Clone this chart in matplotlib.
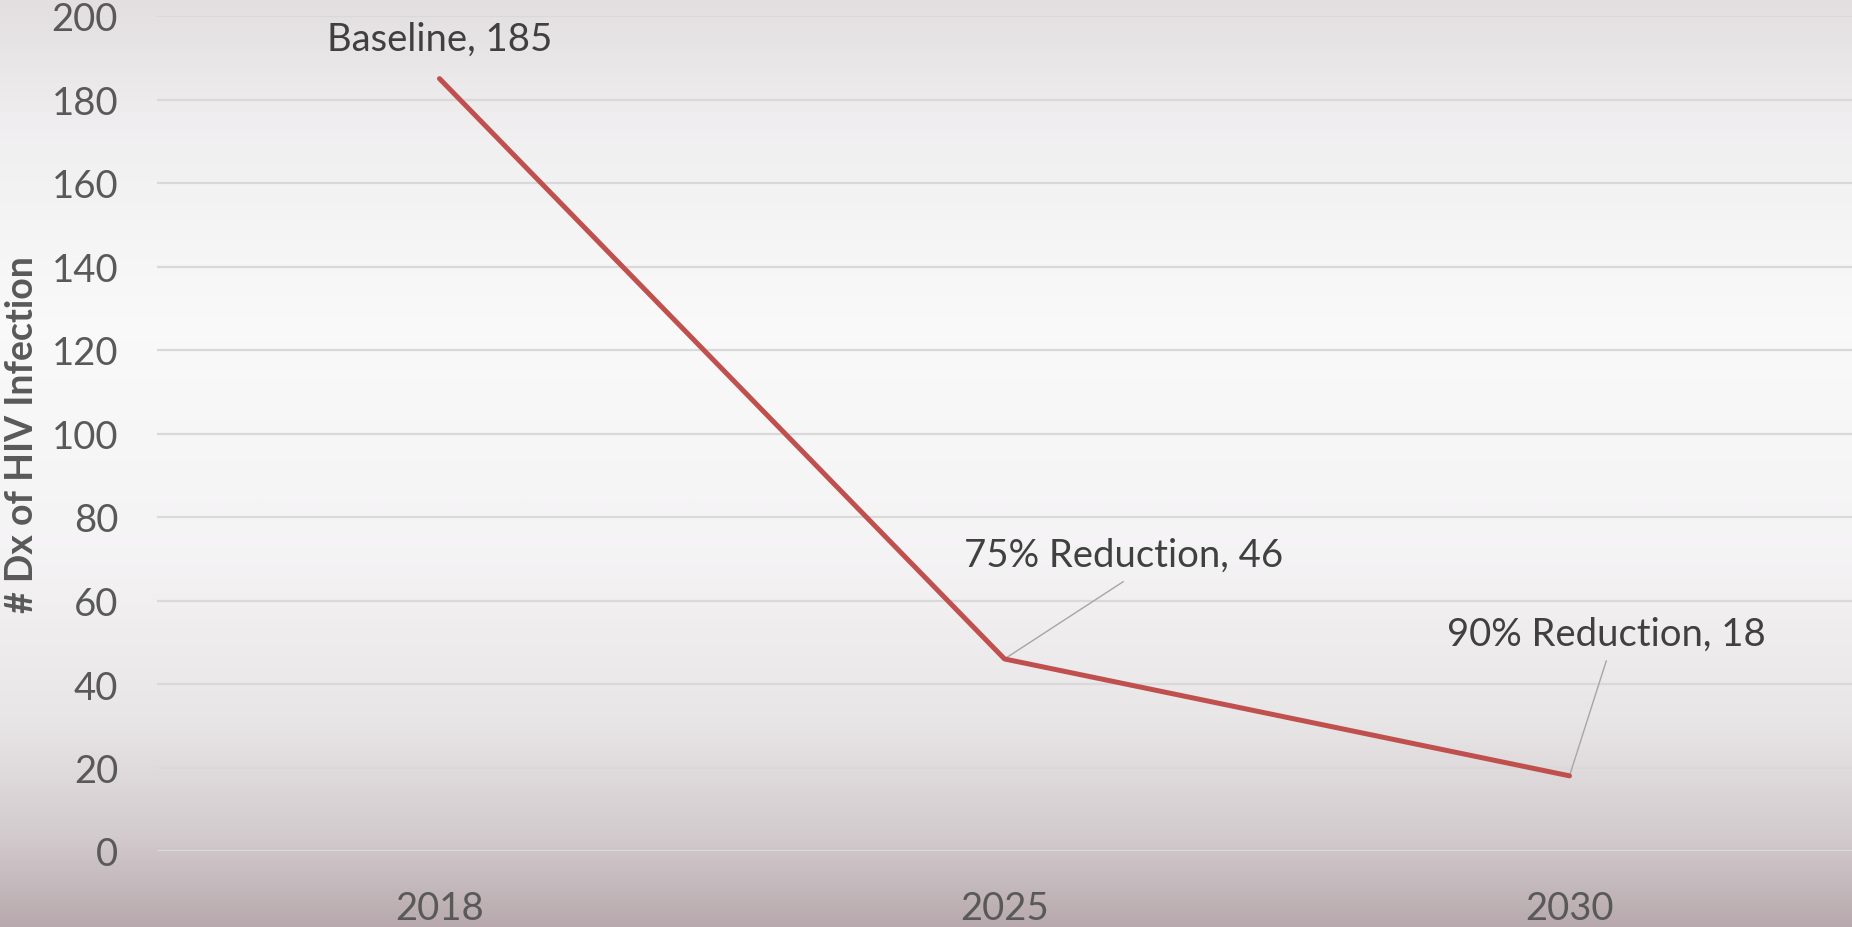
import numpy as np
import matplotlib
matplotlib.use("Agg")
import matplotlib.pyplot as plt
from matplotlib.colors import LinearSegmentedColormap

years = ["2018", "2025", "2030"]
cases = [185, 46, 18]
labels = ["Baseline, 185", "75% Reduction, 46", "90% Reduction, 18"]
yticks = [0, 20, 40, 60, 80, 100, 120, 140, 160, 180, 200]

# label positions in data units (category index, value)
label_pos = [(0.0, 194.5), (1.21, 71.0), (2.065, 52.0)]

plt.rcParams['font.family'] = ['Lato', 'DejaVu Sans']

fig = plt.figure(figsize=(18.52, 9.28), dpi=100)

# background gradient
bg = fig.add_axes([0, 0, 1, 1], zorder=0)
bg.axis('off')
stops = [(0.0, (0.89, 0.875, 0.88)), (0.15, (0.945, 0.94, 0.945)),
         (0.35, (0.98, 0.978, 0.98)), (0.6, (0.96, 0.955, 0.96)),
         (0.78, (0.91, 0.9, 0.905)), (0.9, (0.83, 0.8, 0.81)),
         (1.0, (0.72, 0.665, 0.68))]
cmap = LinearSegmentedColormap.from_list('bg', stops)
grad = np.linspace(0, 1, 512).reshape(-1, 1)
bg.imshow(grad, aspect='auto', cmap=cmap, extent=[0, 1, 0, 1])

ax = fig.add_axes([157 / 1852, 1 - 852 / 928, 1 - 157 / 1852, (852 - 17) / 928], zorder=1)
ax.patch.set_alpha(0)
x = np.arange(len(years))
ax.plot(x, cases, color='#c0504d', lw=3.6, solid_capstyle='round', zorder=3)

ax.set_xlim(-0.5, len(years) - 0.5)
ax.set_ylim(0, 200)
ax.set_yticks(yticks)
ax.set_xticks(x)
ax.set_xticklabels(years)
ax.grid(axis='y', color='#d9d9d9', lw=1.6)
ax.set_axisbelow(True)
for s in ax.spines.values():
    s.set_visible(False)
ax.tick_params(length=0, labelsize=27.5, labelcolor='#595959')
ax.tick_params(axis='y', pad=28)
ax.tick_params(axis='x', pad=28)
ax.set_ylabel('# Dx of HIV Infection', fontsize=27, fontweight='bold',
              color='#595959', labelpad=9)

for i, (txt, (lx, ly)) in enumerate(zip(labels, label_pos)):
    ax.text(lx, ly, txt, ha='center', va='center', fontsize=27.5, color='#404040')
    if i > 0:
        ax.plot([x[i], lx], [cases[i], ly - 6.5],
                color='#a6a6a6', lw=1, zorder=2)

fig.savefig('out.png', dpi=100)
